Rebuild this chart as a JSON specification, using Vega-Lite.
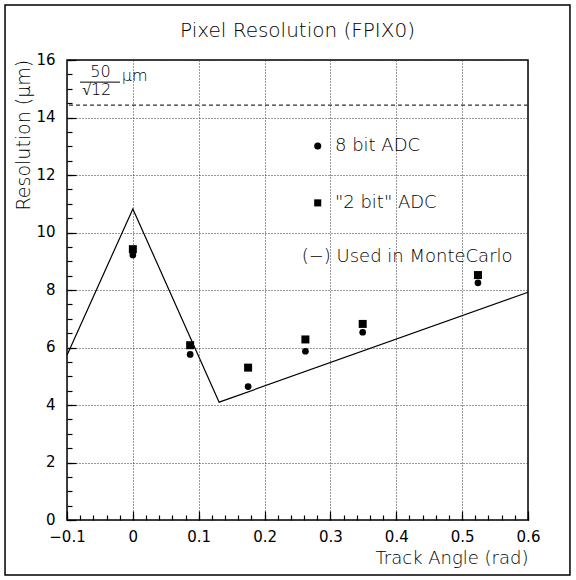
{
  "$schema": "https://vega.github.io/schema/vega-lite/v6.json",
  "width": 461,
  "height": 460,
  "autosize": {"type": "none"},
  "padding": {"left": 67, "top": 60, "right": 48, "bottom": 60},
  "background": "white",
  "config": {
    "view": {"stroke": "black", "strokeWidth": 1.5},
    "font": "DejaVu Sans",
    "axis": {"labelColor": "black", "titleColor": "black", "labelFont": "DejaVu Sans", "titleFont": "DejaVu Sans", "tickColor": "black"}
  },
  "title": {"text": "Pixel Resolution (FPIX0)", "fontSize": 20, "fontWeight": 200, "font": "DejaVu Sans", "color": "black", "anchor": "middle", "frame": "group", "baseline": "alphabetic", "offset": -53},
  "datasets": {
    "frame": [{"x1": -0.1941, "x2": 0.6637, "y1": -1.913, "y2": 17.913}],
    "points": [
      {"angle": 0, "res": 9.22, "adc": "8 bit"},
      {"angle": 0.087, "res": 5.76, "adc": "8 bit"},
      {"angle": 0.175, "res": 4.64, "adc": "8 bit"},
      {"angle": 0.262, "res": 5.87, "adc": "8 bit"},
      {"angle": 0.349, "res": 6.53, "adc": "8 bit"},
      {"angle": 0.524, "res": 8.25, "adc": "8 bit"},
      {"angle": 0, "res": 9.42, "adc": "2 bit"},
      {"angle": 0.087, "res": 6.08, "adc": "2 bit"},
      {"angle": 0.175, "res": 5.3, "adc": "2 bit"},
      {"angle": 0.262, "res": 6.28, "adc": "2 bit"},
      {"angle": 0.349, "res": 6.82, "adc": "2 bit"},
      {"angle": 0.524, "res": 8.52, "adc": "2 bit"}
    ],
    "mc": [
      {"angle": -0.1, "res": 5.73},
      {"angle": 0, "res": 10.82},
      {"angle": 0.131, "res": 4.1},
      {"angle": 0.6, "res": 7.92}
    ],
    "legendsym": [
      {"sx": 0.2807, "sy": 13.01, "adc": "8 bit"},
      {"sx": 0.2807, "sy": 11.03, "adc": "2 bit"}
    ],
    "legendtext": [
      {"tx": 0.3069, "ty": 13.01, "label": "8 bit ADC"},
      {"tx": 0.3069, "ty": 11.03, "label": "\"2 bit\" ADC"},
      {"tx": 0.2564, "ty": 9.16, "label": "(−) Used in MonteCarlo"}
    ],
    "fracnum": [{"tx": -0.0491, "ty": 15.6, "label": "50"}],
    "fracden": [{"tx": -0.0549, "ty": 14.95, "label": "√12"}],
    "fracbar": [{"xa": -0.0803, "xb": -0.0195, "yb": 15.23}],
    "unit": [{"tx": -0.0169, "ty": 15.44, "label": "μm"}],
    "limit": [{"res": 14.43}]
  },
  "layer": [
    {
      "data": {"name": "frame"},
      "mark": {"type": "rect", "fillOpacity": 0, "stroke": "black", "strokeWidth": 1.5},
      "encoding": {
        "x": {"field": "x1", "type": "quantitative",
          "scale": {"domain": [-0.1, 0.6], "nice": false, "zero": false},
          "axis": {"orient": "bottom", "values": [-0.1, 0, 0.1, 0.2, 0.3, 0.4, 0.5, 0.6], "format": ".1~f",
            "grid": true, "gridColor": "#333", "gridDash": [1, 2], "gridWidth": 1,
            "ticks": false, "domain": false, "labelFontSize": 15, "labelPadding": 9, "labelFlush": false,
            "title": "Track Angle (rad)", "titleFontSize": 18, "titleFontWeight": 200,
            "titleAlign": "right", "titleX": 461, "titleY": 43, "titleBaseline": "alphabetic"}},
        "x2": {"field": "x2"},
        "y": {"field": "y1", "type": "quantitative",
          "scale": {"domain": [0, 16], "nice": false, "zero": false},
          "axis": {"orient": "left", "values": [0, 2, 4, 6, 8, 10, 12, 14, 16], "format": "d",
            "grid": true, "gridColor": "#333", "gridDash": [1, 2], "gridWidth": 1,
            "ticks": false, "domain": false, "labelFontSize": 15, "labelPadding": 12, "labelOffset": -1, "labelFlush": false,
            "title": "Resolution (μm)", "titleFontSize": 19, "titleFontWeight": 200,
            "titleAngle": -90, "titleAlign": "left", "titleX": -38, "titleY": 150, "titleBaseline": "alphabetic"}},
        "y2": {"field": "y2"}
      }
    },
    {
      "data": {"name": "limit"},
      "mark": {"type": "rule", "color": "#333", "strokeWidth": 1.2, "strokeDash": [4, 3]},
      "encoding": {"y": {"field": "res", "type": "quantitative", "axis": null}}
    },
    {
      "data": {"name": "mc"},
      "mark": {"type": "line", "color": "black", "strokeWidth": 1.2},
      "encoding": {
        "x": {"field": "angle", "type": "quantitative",
          "axis": {"orient": "bottom", "values": [-0.1, 0, 0.1, 0.2, 0.3, 0.4, 0.5, 0.6], "labels": false, "grid": false, "domain": false, "ticks": true, "tickSize": -9, "tickWidth": 1.2, "title": null}},
        "y": {"field": "res", "type": "quantitative",
          "axis": {"orient": "left", "values": [0, 2, 4, 6, 8, 10, 12, 14, 16], "labels": false, "grid": false, "domain": false, "ticks": true, "tickSize": -9, "tickWidth": 1.2, "title": null}}
      }
    },
    {
      "data": {"name": "points"},
      "transform": [{"filter": "datum.adc === '8 bit'"}],
      "mark": {"type": "point", "shape": "circle", "filled": true, "color": "black", "opacity": 1, "size": 45},
      "encoding": {
        "x": {"field": "angle", "type": "quantitative",
          "axis": {"orient": "bottom", "values": [-0.1, -0.08, -0.06, -0.04, -0.02, 0, 0.02, 0.04, 0.06, 0.08, 0.1, 0.12, 0.14, 0.16, 0.18, 0.2, 0.22, 0.24, 0.26, 0.28, 0.3, 0.32, 0.34, 0.36, 0.38, 0.4, 0.42, 0.44, 0.46, 0.48, 0.5, 0.52, 0.54, 0.56, 0.58, 0.6], "labels": false, "grid": false, "domain": false, "ticks": true, "tickSize": -5, "tickWidth": 1.2, "title": null}},
        "y": {"field": "res", "type": "quantitative",
          "axis": {"orient": "left", "values": [0, 0.5, 1, 1.5, 2, 2.5, 3, 3.5, 4, 4.5, 5, 5.5, 6, 6.5, 7, 7.5, 8, 8.5, 9, 9.5, 10, 10.5, 11, 11.5, 12, 12.5, 13, 13.5, 14, 14.5, 15, 15.5, 16], "labels": false, "grid": false, "domain": false, "ticks": true, "tickSize": -5, "tickWidth": 1.2, "title": null}}
      }
    },
    {
      "data": {"name": "points"},
      "transform": [{"filter": "datum.adc === '2 bit'"}],
      "mark": {"type": "point", "shape": "square", "filled": true, "color": "black", "opacity": 1, "size": 64},
      "encoding": {
        "x": {"field": "angle", "type": "quantitative", "axis": null},
        "y": {"field": "res", "type": "quantitative", "axis": null}
      }
    },
    {
      "data": {"name": "legendsym"},
      "mark": {"type": "point", "filled": true, "color": "black", "opacity": 1, "size": 50},
      "encoding": {
        "x": {"field": "sx", "type": "quantitative", "axis": null},
        "y": {"field": "sy", "type": "quantitative", "axis": null},
        "shape": {"field": "adc", "type": "nominal", "scale": {"domain": ["8 bit", "2 bit"], "range": ["circle", "square"]}, "legend": null}
      }
    },
    {
      "data": {"name": "legendtext"},
      "mark": {"type": "text", "align": "left", "baseline": "middle", "fontSize": 18, "fontWeight": 200, "color": "black"},
      "encoding": {
        "x": {"field": "tx", "type": "quantitative", "axis": null},
        "y": {"field": "ty", "type": "quantitative", "axis": null},
        "text": {"field": "label"}
      }
    },
    {
      "data": {"name": "fracnum"},
      "mark": {"type": "text", "align": "center", "baseline": "middle", "fontSize": 16, "fontWeight": 200, "color": "black"},
      "encoding": {
        "x": {"field": "tx", "type": "quantitative", "axis": null},
        "y": {"field": "ty", "type": "quantitative", "axis": null},
        "text": {"field": "label"}
      }
    },
    {
      "data": {"name": "fracden"},
      "mark": {"type": "text", "align": "center", "baseline": "middle", "fontSize": 16, "fontWeight": 200, "color": "black"},
      "encoding": {
        "x": {"field": "tx", "type": "quantitative", "axis": null},
        "y": {"field": "ty", "type": "quantitative", "axis": null},
        "text": {"field": "label"}
      }
    },
    {
      "data": {"name": "fracbar"},
      "mark": {"type": "rule", "color": "black", "strokeWidth": 1},
      "encoding": {
        "x": {"field": "xa", "type": "quantitative", "axis": null},
        "x2": {"field": "xb"},
        "y": {"field": "yb", "type": "quantitative", "axis": null}
      }
    },
    {
      "data": {"name": "unit"},
      "mark": {"type": "text", "align": "left", "baseline": "middle", "fontSize": 16, "fontWeight": 200, "color": "black"},
      "encoding": {
        "x": {"field": "tx", "type": "quantitative", "axis": null},
        "y": {"field": "ty", "type": "quantitative", "axis": null},
        "text": {"field": "label"}
      }
    }
  ],
  "resolve": {"axis": {"x": "independent", "y": "independent"}}
}
